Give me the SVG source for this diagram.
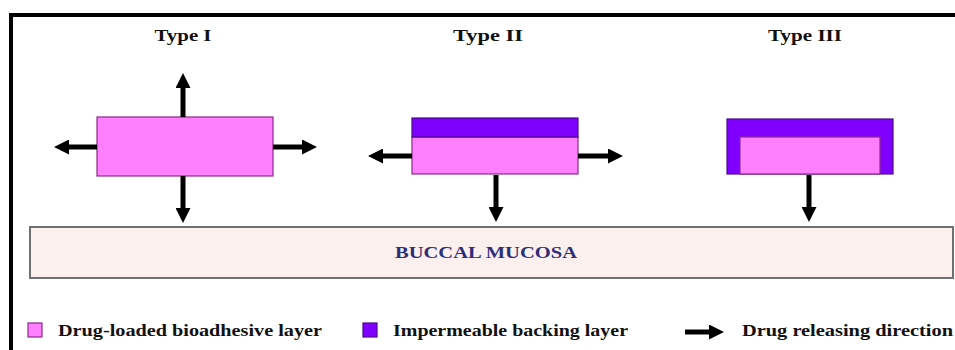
<svg xmlns="http://www.w3.org/2000/svg" width="955" height="350" viewBox="0 0 955 350">
  <style>
    .title { font-family: "Liberation Serif", "Times New Roman", serif; font-weight: bold; font-size: 17px; fill: #111; }
    .legend { font-family: "Liberation Serif", "Times New Roman", serif; font-weight: bold; font-size: 16px; fill: #111; }
    .mucosa-label { font-family: "Liberation Serif", "Times New Roman", serif; font-weight: bold; font-size: 16px; fill: #2e2e78; }
    .drug { fill: #ff7fff; stroke: #8a2a8a; stroke-width: 1.2; }
    .backing { fill: #7f00ff; stroke: #4a0a8a; stroke-width: 1.2; }
    .arrow { stroke: #000; stroke-width: 5; fill: none; marker-end: url(#head); }
  </style>
  <defs>
    <marker id="head" markerUnits="userSpaceOnUse" markerWidth="15" markerHeight="15" refX="4" refY="7.5" orient="auto">
      <path d="M0,0 L15,7.5 L0,15 Z" fill="#000"/>
    </marker>
  </defs>

  <rect x="0" y="0" width="955" height="350" fill="#fff"/>
  <!-- frame -->
  <path d="M11,350 V15 H955" fill="none" stroke="#000" stroke-width="4"/>

  <!-- titles -->
  <text class="title" x="183" y="41" text-anchor="middle" textLength="57" lengthAdjust="spacingAndGlyphs">Type I</text>
  <text class="title" x="488" y="41" text-anchor="middle" textLength="70" lengthAdjust="spacingAndGlyphs">Type II</text>
  <text class="title" x="805" y="41" text-anchor="middle" textLength="74" lengthAdjust="spacingAndGlyphs">Type III</text>

  <!-- buccal mucosa -->
  <g id="mucosa">
    <rect x="30" y="227" width="923" height="51" fill="#fbf0ee" stroke="#707070" stroke-width="2"/>
    <text class="mucosa-label" x="486" y="258" text-anchor="middle" textLength="182" lengthAdjust="spacingAndGlyphs">BUCCAL MUCOSA</text>
  </g>

  <!-- Type I: bioadhesive layer only -->
  <g id="type1">
    <rect class="drug" x="97" y="117" width="176" height="59"/>
  </g>

  <!-- Type II: backing layer on top -->
  <g id="type2">
    <rect class="drug" x="412" y="137" width="166" height="37"/>
    <rect class="backing" x="412" y="118" width="166" height="19"/>
  </g>

  <!-- Type III: backing layer on top and sides -->
  <g id="type3">
    <rect class="backing" x="727" y="119" width="166" height="55"/>
    <rect class="drug" x="740" y="137" width="140" height="37"/>
  </g>

  <!-- release directions -->
  <g id="connectors">
    <line class="arrow" x1="183" y1="117" x2="183" y2="84"/>
    <line class="arrow" x1="97" y1="147" x2="65" y2="147"/>
    <line class="arrow" x1="273" y1="147" x2="306" y2="147"/>
    <line class="arrow" x1="183" y1="176" x2="183" y2="212"/>

    <line class="arrow" x1="412" y1="156" x2="379" y2="156"/>
    <line class="arrow" x1="578" y1="156" x2="612" y2="156"/>
    <line class="arrow" x1="496" y1="175" x2="496" y2="211"/>

    <line class="arrow" x1="809" y1="175" x2="809" y2="211"/>
  </g>

  <!-- legend -->
  <g id="legend">
    <rect class="drug" x="28" y="323" width="14" height="14" stroke-width="2"/>
    <text class="legend" x="58" y="336" textLength="264" lengthAdjust="spacingAndGlyphs">Drug-loaded bioadhesive layer</text>
    <rect class="backing" x="363" y="323" width="14" height="14" stroke-width="2"/>
    <text class="legend" x="393" y="336" textLength="235" lengthAdjust="spacingAndGlyphs">Impermeable backing layer</text>
    <line class="arrow" x1="685" y1="332" x2="713" y2="332" stroke-width="4"/>
    <text class="legend" x="742" y="336" textLength="211" lengthAdjust="spacingAndGlyphs">Drug releasing direction</text>
  </g>
</svg>
